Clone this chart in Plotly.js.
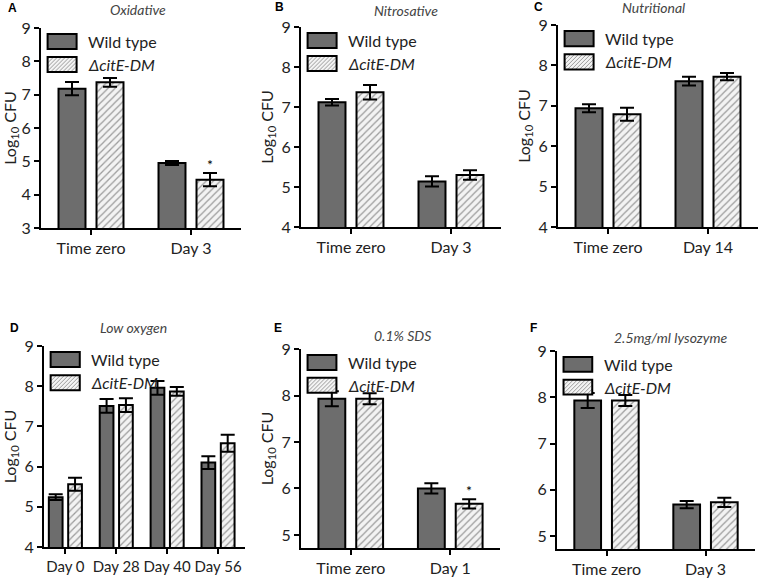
<!DOCTYPE html>
<html><head><meta charset="utf-8">
<script src="https://cdn.plot.ly/plotly-3.0.1.min.js"></script>
<style>html,body{margin:0;padding:0;background:#fff}</style>
</head><body><div id="chart" style="width:763px;height:579px"></div>
<script>
// ---- data ----
const seriesNames = ['Wild type', 'ΔcitE-DM'];

const catsA = ['Time zero', 'Day 3'];
const wtA = [7.18, 4.95];   const wtErrA = [0.20, 0.06];
const mutA = [7.37, 4.45];  const mutErrA = [0.13, 0.20];
const sigA = ['', '*'];

const catsB = ['Time zero', 'Day 3'];
const wtB = [7.12, 5.14];   const wtErrB = [0.08, 0.13];
const mutB = [7.37, 5.30];  const mutErrB = [0.18, 0.12];
const sigB = ['', ''];

const catsC = ['Time zero', 'Day 14'];
const wtC = [6.94, 7.61];   const wtErrC = [0.10, 0.11];
const mutC = [6.79, 7.72];  const mutErrC = [0.16, 0.09];
const sigC = ['', ''];

const catsD = ['Day 0', 'Day 28', 'Day 40', 'Day 56'];
const wtD = [5.24, 7.51, 7.96, 6.10];  const wtErrD = [0.07, 0.17, 0.17, 0.16];
const mutD = [5.56, 7.53, 7.87, 6.58]; const mutErrD = [0.16, 0.17, 0.11, 0.21];
const sigD = ['', '', '', ''];

const catsE = ['Time zero', 'Day 1'];
const wtE = [7.93, 6.00];   const wtErrE = [0.16, 0.11];
const mutE = [7.93, 5.67];  const mutErrE = [0.12, 0.10];
const sigE = ['', '*'];

const catsF = ['Time zero', 'Day 3'];
const wtF = [7.93, 5.68];   const wtErrF = [0.16, 0.08];
const mutF = [7.93, 5.73];  const mutErrF = [0.12, 0.10];
const sigF = ['', ''];

const panelTitles = ['Oxidative', 'Nitrosative', 'Nutritional', 'Low oxygen', '0.1% SDS', '2.5mg/ml lysozyme'];
const panelLetters = ['A', 'B', 'C', 'D', 'E', 'F'];

// ---- layout config ----
const W = 763, H = 579;
const FONT = 'Lato, "Open Sans", sans-serif';
const WT_COLOR = '#6d6d6d';
const MUT_BG = '#f3f3f3';
const HATCH = '#9c9c9c';

const panels = [
  {cats: catsA, wt: wtA, wtErr: wtErrA, mut: mutA, mutErr: mutErrA, sig: sigA,
   px: [41, 241], py: [28, 228], yr: [3, 9], xr: [-0.5, 1.5], ytitle: true,
   title: [138, 9], letter: [6, 8]},
  {cats: catsB, wt: wtB, wtErr: wtErrB, mut: mutB, mutErr: mutErrB, sig: sigB,
   px: [301, 501], py: [27, 227], yr: [4, 9], xr: [-0.5, 1.5], ytitle: true,
   title: [406, 11], letter: [273, 7]},
  {cats: catsC, wt: wtC, wtErr: wtErrC, mut: mutC, mutErr: mutErrC, sig: sigC,
   px: [558, 758], py: [25, 227], yr: [4, 9], xr: [-0.5, 1.5], ytitle: true,
   title: [653, 8], letter: [532, 7]},
  {cats: catsD, wt: wtD, wtErr: wtErrD, mut: mutD, mutErr: mutErrD, sig: sigD,
   px: [44, 245], py: [346, 547], yr: [4, 9], xr: [-0.42, 3.53], ytitle: true,
   title: [133, 327], letter: [8, 328]},
  {cats: catsE, wt: wtE, wtErr: wtErrE, mut: mutE, mutErr: mutErrE, sig: sigE,
   px: [301, 500], py: [349, 548], yr: [4.72, 9], xr: [-0.5, 1.5], ytitle: true,
   title: [402, 335], letter: [272, 328]},
  {cats: catsF, wt: wtF, wtErr: wtErrF, mut: mutF, mutErr: mutErrF, sig: sigF,
   px: [557, 755], py: [351, 549], yr: [4.72, 9], xr: [-0.5, 1.5], ytitle: false,
   title: [670, 337], letter: [528, 328]}
];

const traces = [];
const layout = {
  width: W, height: H,
  margin: {l: 0, r: 0, t: 0, b: 0},
  paper_bgcolor: '#fff', plot_bgcolor: '#fff',
  showlegend: false,
  barmode: 'group', bargap: 0.24, bargroupgap: 0.29,
  font: {family: FONT, color: '#222'},
  shapes: [], annotations: []
};

function hatchPath(x0, x1, y0, y1, pw, ph, spacing) {
  const Wp = (x1 - x0) * pw, Hp = (y1 - y0) * ph;
  let d = '';
  for (let c = -Hp + spacing / 2; c < Wp; c += spacing) {
    const u0 = Math.max(0, c), u1 = Math.min(Wp, Hp + c);
    const v0 = u0 - c, v1 = u1 - c;
    d += 'M' + (x0 + u0 / pw).toFixed(4) + ',' + (y0 + v0 / ph).toFixed(4) +
         'L' + (x0 + u1 / pw).toFixed(4) + ',' + (y0 + v1 / ph).toFixed(4);
  }
  return d;
}

panels.forEach((p, i) => {
  const n = i === 0 ? '' : String(i + 1);
  const xa = 'x' + n, ya = 'y' + n;
  const xk = 'xaxis' + n, yk = 'yaxis' + n;

  traces.push({
    type: 'bar', name: seriesNames[0], x: p.cats, y: p.wt, xaxis: xa, yaxis: ya,
    marker: {color: WT_COLOR, line: {color: '#000', width: 2}},
    error_y: {type: 'data', array: p.wtErr, visible: true, color: '#000', thickness: 2, width: 7},
    hoverinfo: 'x+y'
  });
  traces.push({
    type: 'bar', name: seriesNames[1], x: p.cats, y: p.mut, xaxis: xa, yaxis: ya,
    marker: {color: MUT_BG, line: {color: '#000', width: 2},
             pattern: {shape: '/', fgcolor: HATCH, bgcolor: MUT_BG, size: 5, solidity: 0.25}},
    error_y: {type: 'data', array: p.mutErr, visible: true, color: '#000', thickness: 2, width: 7},
    hoverinfo: 'x+y'
  });

  const axBase = {
    showline: true, linecolor: '#000', linewidth: 2, mirror: false,
    ticks: 'outside', ticklen: 5, tickwidth: 2, tickcolor: '#000',
    showgrid: false, zeroline: false, fixedrange: true,
    tickfont: {family: FONT, size: 16, color: '#222'}
  };
  layout[xk] = Object.assign({}, axBase, {
    type: 'category', anchor: ya, tickangle: 0,
    tickfont: {family: FONT, size: i === 3 ? 15 : 16, color: '#222'},
    domain: [p.px[0] / W, p.px[1] / W], range: p.xr
  });
  const yax = Object.assign({}, axBase, {
    anchor: xa, domain: [1 - p.py[1] / H, 1 - p.py[0] / H],
    range: p.yr, dtick: 1, tick0: 0
  });
  if (p.ytitle) {
    yax.title = {text: 'Log<sub>10</sub> CFU', font: {family: FONT, size: 16, color: '#222'}, standoff: 4};
  }
  layout[yk] = yax;

  layout.annotations.push({
    xref: 'paper', yref: 'paper', x: p.title[0] / W, y: 1 - p.title[1] / H,
    xanchor: 'center', yanchor: 'middle', showarrow: false,
    text: '<i>' + panelTitles[i] + '</i>', font: {family: FONT, size: 14, color: '#444'}
  });
  layout.annotations.push({
    xref: 'paper', yref: 'paper', x: p.letter[0] / W, y: 1 - p.letter[1] / H,
    xanchor: 'left', yanchor: 'middle', showarrow: false,
    text: '<b>' + panelLetters[i] + '</b>', font: {family: 'Liberation Sans, Arial, sans-serif', size: 12, color: '#000'}
  });

  p.sig.forEach((s, k) => {
    if (!s) return;
    layout.annotations.push({
      xref: xa, yref: ya, x: k + 0.19, y: p.mut[k] + p.mutErr[k],
      xanchor: 'center', yanchor: 'bottom', yshift: -2, showarrow: false,
      text: s, font: {family: FONT, size: 14, color: '#000'}
    });
  });

  const dx = xa + ' domain', dy = ya + ' domain';
  const pw = p.px[1] - p.px[0], ph = p.py[1] - p.py[0];
  const sx0 = 0.033, sx1 = 0.178;
  const rows = [[0.895, 0.970], [0.780, 0.855]];
  layout.shapes.push({type: 'rect', xref: dx, yref: dy, x0: sx0, x1: sx1, y0: rows[0][0], y1: rows[0][1],
    fillcolor: WT_COLOR, line: {color: '#000', width: 2}});
  layout.shapes.push({type: 'rect', xref: dx, yref: dy, x0: sx0, x1: sx1, y0: rows[1][0], y1: rows[1][1],
    fillcolor: MUT_BG, line: {width: 0}});
  layout.shapes.push({type: 'path', xref: dx, yref: dy,
    path: hatchPath(sx0, sx1, rows[1][0], rows[1][1], pw, ph, 4),
    line: {color: HATCH, width: 1}});
  layout.shapes.push({type: 'rect', xref: dx, yref: dy, x0: sx0, x1: sx1, y0: rows[1][0], y1: rows[1][1],
    fillcolor: 'rgba(0,0,0,0)', line: {color: '#000', width: 2}});
  seriesNames.forEach((nm, k) => {
    layout.annotations.push({
      xref: dx, yref: dy, x: 0.225, y: (rows[k][0] + rows[k][1]) / 2,
      xanchor: 'left', yanchor: 'middle', showarrow: false,
      text: k === 1 ? '<i>' + nm + '</i>' : nm,
      font: {family: FONT, size: 16, color: '#222'}
    });
  });
});

Plotly.newPlot('chart', traces, layout, {staticPlot: true, displayModeBar: false});
</script>
</body></html>
